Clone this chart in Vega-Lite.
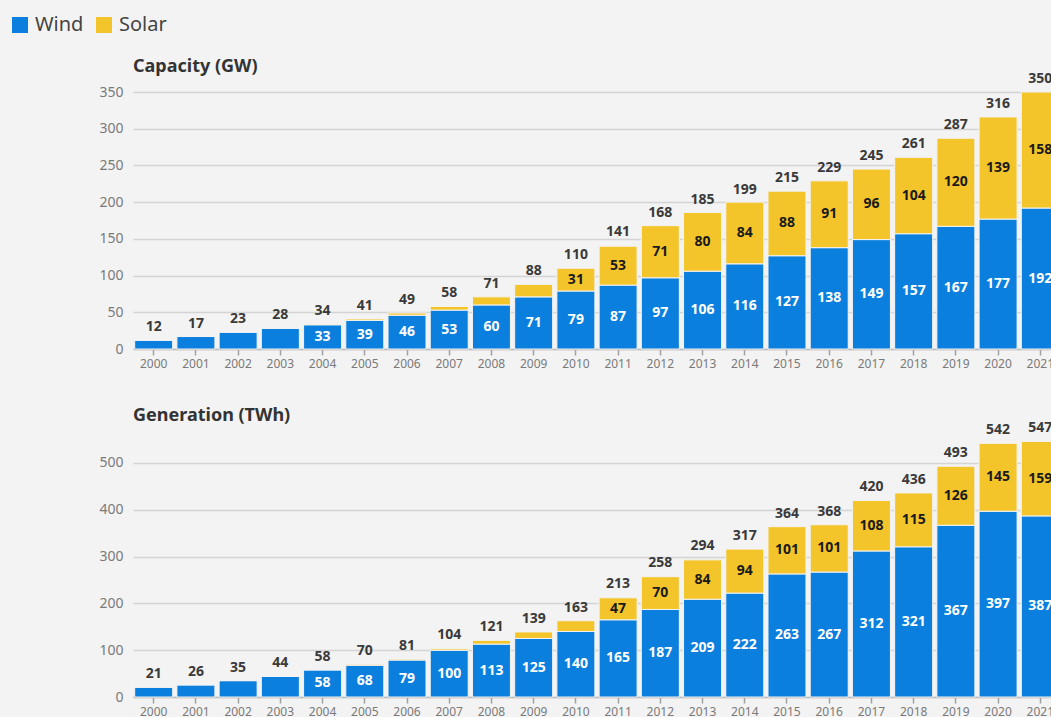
{
  "$schema": "https://vega.github.io/schema/vega-lite/v6.json",
  "background": "#f3f3f3",
  "padding": {"left": 10, "top": 15, "right": 0, "bottom": 0},
  "datasets": {
    "capacity": [
      {"year": "2000", "Wind": 12, "Solar": 0, "Total": 12},
      {"year": "2001", "Wind": 17, "Solar": 0, "Total": 17},
      {"year": "2002", "Wind": 23, "Solar": 0, "Total": 23},
      {"year": "2003", "Wind": 28, "Solar": 0, "Total": 28},
      {"year": "2004", "Wind": 33, "Solar": 1, "Total": 34},
      {"year": "2005", "Wind": 39, "Solar": 2, "Total": 41},
      {"year": "2006", "Wind": 46, "Solar": 3, "Total": 49},
      {"year": "2007", "Wind": 53, "Solar": 5, "Total": 58},
      {"year": "2008", "Wind": 60, "Solar": 11, "Total": 71},
      {"year": "2009", "Wind": 71, "Solar": 17, "Total": 88},
      {"year": "2010", "Wind": 79, "Solar": 31, "Total": 110},
      {"year": "2011", "Wind": 87, "Solar": 53, "Total": 141},
      {"year": "2012", "Wind": 97, "Solar": 71, "Total": 168},
      {"year": "2013", "Wind": 106, "Solar": 80, "Total": 185},
      {"year": "2014", "Wind": 116, "Solar": 84, "Total": 199},
      {"year": "2015", "Wind": 127, "Solar": 88, "Total": 215},
      {"year": "2016", "Wind": 138, "Solar": 91, "Total": 229},
      {"year": "2017", "Wind": 149, "Solar": 96, "Total": 245},
      {"year": "2018", "Wind": 157, "Solar": 104, "Total": 261},
      {"year": "2019", "Wind": 167, "Solar": 120, "Total": 287},
      {"year": "2020", "Wind": 177, "Solar": 139, "Total": 316},
      {"year": "2021", "Wind": 192, "Solar": 158, "Total": 350}
    ],
    "generation": [
      {"year": "2000", "Wind": 21, "Solar": 0, "Total": 21},
      {"year": "2001", "Wind": 26, "Solar": 0, "Total": 26},
      {"year": "2002", "Wind": 35, "Solar": 0, "Total": 35},
      {"year": "2003", "Wind": 44, "Solar": 0, "Total": 44},
      {"year": "2004", "Wind": 58, "Solar": 0, "Total": 58},
      {"year": "2005", "Wind": 68, "Solar": 2, "Total": 70},
      {"year": "2006", "Wind": 79, "Solar": 2, "Total": 81},
      {"year": "2007", "Wind": 100, "Solar": 3, "Total": 104},
      {"year": "2008", "Wind": 113, "Solar": 8, "Total": 121},
      {"year": "2009", "Wind": 125, "Solar": 14, "Total": 139},
      {"year": "2010", "Wind": 140, "Solar": 23, "Total": 163},
      {"year": "2011", "Wind": 165, "Solar": 47, "Total": 213},
      {"year": "2012", "Wind": 187, "Solar": 70, "Total": 258},
      {"year": "2013", "Wind": 209, "Solar": 84, "Total": 294},
      {"year": "2014", "Wind": 222, "Solar": 94, "Total": 317},
      {"year": "2015", "Wind": 263, "Solar": 101, "Total": 364},
      {"year": "2016", "Wind": 267, "Solar": 101, "Total": 368},
      {"year": "2017", "Wind": 312, "Solar": 108, "Total": 420},
      {"year": "2018", "Wind": 321, "Solar": 115, "Total": 436},
      {"year": "2019", "Wind": 367, "Solar": 126, "Total": 493},
      {"year": "2020", "Wind": 397, "Solar": 145, "Total": 542},
      {"year": "2021", "Wind": 387, "Solar": 159, "Total": 547}
    ]
  },
  "spacing": 38,
  "vconcat": [
    {
      "width": 928,
      "height": 257,
      "title": {"text": "Capacity (GW)", "anchor": "start", "frame": "group", "fontSize": 18, "fontWeight": "bold", "color": "#333333", "offset": -4},
      "data": {"name": "capacity"},
      "encoding": {
        "x": {"field": "year", "type": "ordinal", "scale": {"paddingInner": 0.1, "paddingOuter": 0.04}}
      },
      "layer": [
        {
          "transform": [{"fold": ["Wind", "Solar"], "as": ["source", "value"]}],
          "mark": {"type": "bar", "stroke": "#f3f3f3", "strokeWidth": 1},
          "encoding": {
            "y": {"field": "value", "type": "quantitative", "stack": "zero", "scale": {"domain": [0, 350], "nice": false}, "axis": {"values": [0, 50, 100, 150, 200, 250, 300, 350]}},
            "color": {"field": "source", "type": "nominal", "scale": {"domain": ["Wind", "Solar"], "range": ["#0b7fde", "#f4c52a"]}, "legend": {"orient": "none", "legendX": -123, "legendY": -77, "direction": "horizontal", "title": null}},
            "order": {"field": "source", "sort": "descending"}
          }
        },
        {
          "transform": [{"fold": ["Wind", "Solar"], "as": ["source", "value"]}],
          "mark": {"type": "text", "baseline": "middle", "fontSize": 14, "fontWeight": "bold"},
          "encoding": {
            "y": {"field": "value", "type": "quantitative", "stack": "zero", "bandPosition": 0.5, "axis": {"values": [0, 50, 100, 150, 200, 250, 300, 350]}},
            "detail": {"field": "source"},
            "order": {"field": "source", "sort": "descending"},
            "text": {"condition": {"test": "datum.value >= 30", "field": "value", "type": "quantitative"}, "value": ""},
            "color": {"condition": {"test": "datum.source == 'Wind'", "value": "#ffffff"}, "value": "#1a1a1a"}
          }
        },
        {
          "mark": {"type": "text", "baseline": "middle", "dy": -13, "fontSize": 14, "fontWeight": "bold", "color": "#3a3a3a"},
          "encoding": {
            "y": {"field": "Total", "type": "quantitative", "axis": {"values": [0, 50, 100, 150, 200, 250, 300, 350]}},
            "text": {"field": "Total", "type": "quantitative"}
          }
        }
      ]
    },
    {
      "width": 928,
      "height": 256,
      "title": {"text": "Generation (TWh)", "anchor": "start", "frame": "group", "fontSize": 18, "fontWeight": "bold", "color": "#333333", "offset": -4},
      "data": {"name": "generation"},
      "encoding": {
        "x": {"field": "year", "type": "ordinal", "scale": {"paddingInner": 0.1, "paddingOuter": 0.04}}
      },
      "layer": [
        {
          "transform": [{"fold": ["Wind", "Solar"], "as": ["source", "value"]}],
          "mark": {"type": "bar", "stroke": "#f3f3f3", "strokeWidth": 1},
          "encoding": {
            "y": {"field": "value", "type": "quantitative", "stack": "zero", "scale": {"domain": [0, 547], "nice": false}, "axis": {"values": [0, 100, 200, 300, 400, 500]}},
            "color": {"field": "source", "type": "nominal", "scale": {"domain": ["Wind", "Solar"], "range": ["#0b7fde", "#f4c52a"]}},
            "order": {"field": "source", "sort": "descending"}
          }
        },
        {
          "transform": [{"fold": ["Wind", "Solar"], "as": ["source", "value"]}],
          "mark": {"type": "text", "baseline": "middle", "fontSize": 14, "fontWeight": "bold"},
          "encoding": {
            "y": {"field": "value", "type": "quantitative", "stack": "zero", "bandPosition": 0.5, "axis": {"values": [0, 100, 200, 300, 400, 500]}},
            "detail": {"field": "source"},
            "order": {"field": "source", "sort": "descending"},
            "text": {"condition": {"test": "datum.value >= 45", "field": "value", "type": "quantitative"}, "value": ""},
            "color": {"condition": {"test": "datum.source == 'Wind'", "value": "#ffffff"}, "value": "#1a1a1a"}
          }
        },
        {
          "mark": {"type": "text", "baseline": "middle", "dy": -13, "fontSize": 14, "fontWeight": "bold", "color": "#3a3a3a"},
          "encoding": {
            "y": {"field": "Total", "type": "quantitative", "axis": {"values": [0, 100, 200, 300, 400, 500]}},
            "text": {"field": "Total", "type": "quantitative"}
          }
        }
      ]
    }
  ],
  "config": {
    "font": "Noto Sans",
    "view": {"stroke": null},
    "axisY": {"domain": false, "ticks": false, "title": null, "labelColor": "#7a7a7a", "labelFontSize": 14, "labelPadding": 10, "gridColor": "#d4d4d4", "gridWidth": 1.5},
    "axisX": {"title": null, "grid": false, "labelAngle": 0, "labelColor": "#7a7a7a", "labelFontSize": 12, "domainColor": "#bdbdbd", "domainWidth": 1.5, "tickColor": "#a0a0a0", "tickSize": 6, "tickWidth": 1.5, "labelPadding": 3},
    "legend": {"labelFontSize": 20, "labelColor": "#444444", "symbolType": "square", "symbolSize": 256, "symbolStrokeWidth": 0, "symbolOpacity": 1, "columnPadding": 10, "labelOffset": 5}
  }
}
